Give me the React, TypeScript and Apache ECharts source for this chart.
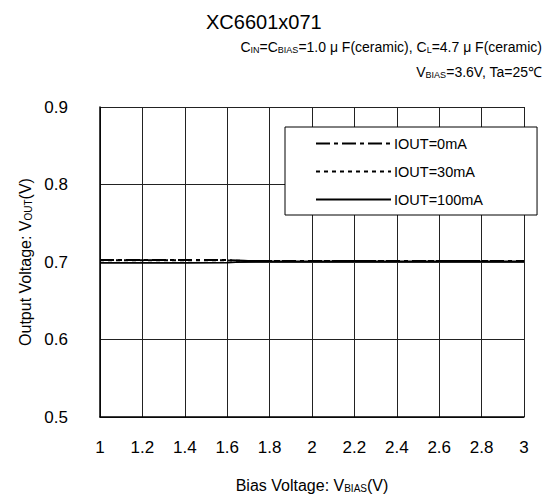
import React, { useEffect, useRef } from "react";
import * as echarts from "echarts";

const biasV = [1.0, 1.2, 1.4, 1.6, 1.7, 1.8, 2.0, 2.2, 2.4, 2.6, 2.8, 3.0];
const out0mA = [0.7026, 0.7026, 0.7026, 0.7025, 0.7014, 0.7013, 0.7013, 0.7013, 0.7013, 0.7013, 0.7013, 0.7013];
const out30mA = [0.7022, 0.7022, 0.7022, 0.7021, 0.7013, 0.7013, 0.7013, 0.7013, 0.7013, 0.7013, 0.7013, 0.7013];
const out100mA = [0.6988, 0.6988, 0.6988, 0.6989, 0.7008, 0.7011, 0.7011, 0.7011, 0.7011, 0.7011, 0.7011, 0.7011];
const seriesNames = ["IOUT=0mA", "IOUT=30mA", "IOUT=100mA"];
const xTicks = { min: 1, max: 3, interval: 0.2 };
const yTicks = { min: 0.5, max: 0.9, interval: 0.1 };

const FONT = "'Liberation Sans', Arial, sans-serif";

export default function App() {
  const ref = useRef<HTMLDivElement>(null);
  useEffect(() => {
    if (!ref.current) return;
    const chart = echarts.init(ref.current, null, { renderer: "svg" });
    const pair = (ys: number[]) => biasV.map((x, i) => [x, ys[i]]);
    const sub = { fontSize: 9, verticalAlign: "bottom", fontFamily: FONT, color: "#000" };
    chart.setOption({
      animation: false,
      backgroundColor: "#fff",
      color: ["#000", "#000", "#000"],
      textStyle: { fontFamily: FONT, color: "#000" },
      grid: { left: 100, right: 28, top: 107, bottom: 86 },
      title: {
        text: "XC6601x071",
        left: 201,
        top: 7,
        textStyle: { fontSize: 20, fontWeight: "normal", fontFamily: FONT, color: "#000" },
      },
      graphic: [
        {
          type: "text",
          x: 542,
          y: 47,
          style: {
            text: "C{s|IN}=C{s|BIAS}=1.0 μ F(ceramic), C{s|L}=4.7 μ F(ceramic)",
            align: "right",
            verticalAlign: "middle",
            fontSize: 14,
            fontFamily: FONT,
            fill: "#000",
            rich: { s: sub },
          },
        },
        {
          type: "text",
          x: 542,
          y: 72,
          style: {
            text: "V{s|BIAS}=3.6V, Ta=25℃",
            align: "right",
            verticalAlign: "middle",
            fontSize: 14,
            fontFamily: FONT,
            fill: "#000",
            rich: { s: sub },
          },
        },
      ],
      legend: {
        orient: "vertical",
        left: 285,
        top: 127,
        padding: [9, 54, 8, 30],
        itemWidth: 75,
        itemHeight: 14,
        itemGap: 13,
        borderColor: "#000",
        borderWidth: 1,
        backgroundColor: "#fff",
        itemStyle: { opacity: 0 },
        lineStyle: { width: 2 },
        textStyle: { fontSize: 14.5, fontFamily: FONT, color: "#000", padding: [0, 0, 0, -2] },
        data: seriesNames,
      },
      xAxis: {
        type: "value",
        min: xTicks.min,
        max: xTicks.max,
        interval: xTicks.interval,
        name: "Bias Voltage: V{s|BIAS}(V)",
        nameLocation: "middle",
        nameGap: 60,
        nameTextStyle: { fontSize: 16, color: "#000", fontFamily: FONT, rich: { s: { ...sub, fontSize: 10 } } },
        axisLine: { show: true, lineStyle: { color: "#000", width: 1.5 } },
        axisTick: { show: false },
        axisLabel: {
          fontSize: 17,
          color: "#000",
          margin: 22,
          formatter: (v: number) => String(Math.round(v * 10) / 10),
        },
        splitLine: { show: true, lineStyle: { color: "#222", width: 1 } },
      },
      yAxis: {
        type: "value",
        min: yTicks.min,
        max: yTicks.max,
        interval: yTicks.interval,
        name: "Output Voltage: V{s|OUT}(V)",
        nameLocation: "middle",
        nameGap: 66,
        nameTextStyle: { fontSize: 16, color: "#000", fontFamily: FONT, rich: { s: { ...sub, fontSize: 10 } } },
        axisLine: { show: true, lineStyle: { color: "#000", width: 1.5 } },
        axisTick: { show: false },
        axisLabel: {
          fontSize: 17,
          color: "#000",
          margin: 32,
          formatter: (v: number) => v.toFixed(1),
        },
        splitLine: { show: true, lineStyle: { color: "#222", width: 1 } },
      },
      series: [
        {
          name: seriesNames[0],
          type: "line",
          data: pair(out0mA),
          symbol: "none",
          itemStyle: { color: "#000" },
          lineStyle: { color: "#000", width: 2, type: [14, 4, 4, 4] },
          z: 3,
        },
        {
          name: seriesNames[1],
          type: "line",
          data: pair(out30mA),
          symbol: "none",
          itemStyle: { color: "#000" },
          lineStyle: { color: "#000", width: 2, type: [4, 4] },
          z: 4,
        },
        {
          name: seriesNames[2],
          type: "line",
          data: pair(out100mA),
          symbol: "none",
          itemStyle: { color: "#000" },
          lineStyle: { color: "#000", width: 1.5, type: "solid" },
          z: 5,
        },
      ],
    });
    return () => chart.dispose();
  }, []);
  return <div ref={ref} style={{ width: 552, height: 503, margin: -8 }} />;
}
